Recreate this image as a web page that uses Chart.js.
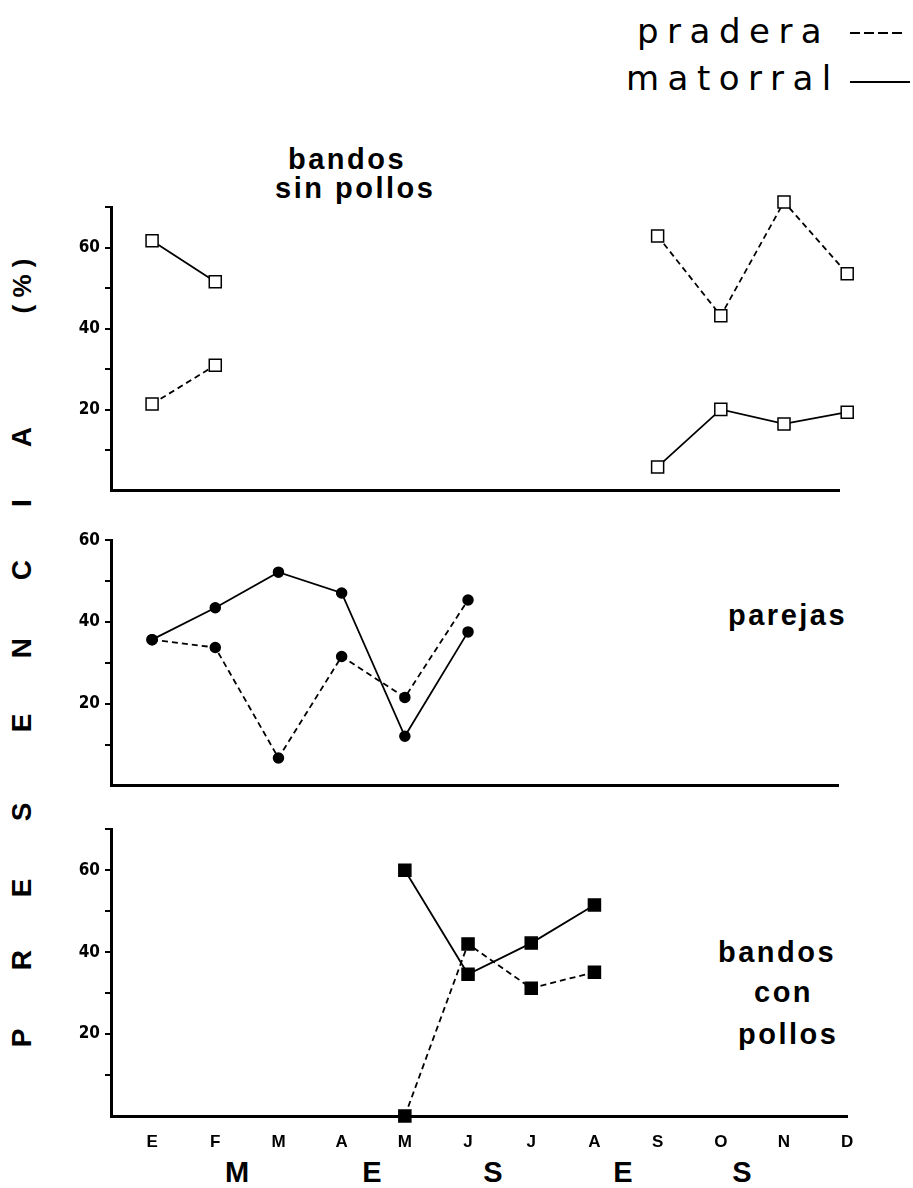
<!DOCTYPE html>
<html>
<head>
<meta charset="utf-8">
<script src="https://cdn.jsdelivr.net/npm/chart.js@4.4.0/dist/chart.umd.min.js"></script>
<style>
  body { margin: 0; background: #fff; }
  #page { position: relative; width: 913px; height: 1188px; overflow: hidden; color: #000;
          font-family: 'Liberation Sans', Arial, sans-serif; }
  canvas { position: absolute; left: 0; }
  .t { position: absolute; font-weight: bold; font-size: 29px; letter-spacing: 2.5px;
       line-height: 29px; white-space: nowrap; }
  .v { position: absolute; width: 50px; height: 40px; line-height: 40px; text-align: center;
       font-weight: bold; font-size: 28px; transform: rotate(-90deg); white-space: nowrap; }
  .m { position: absolute; width: 40px; text-align: center; font-weight: bold; font-size: 29px;
       line-height: 29px; }
  .leg { position: absolute; font-family: 'DejaVu Sans', sans-serif; font-size: 34px;
         letter-spacing: 8.5px; line-height: 34px; white-space: nowrap; }
  .dash { position: absolute; height: 2px;
          background: repeating-linear-gradient(90deg, #000 0 10px, transparent 10px 14px); }
  .solid { position: absolute; height: 2px; background: #000; }
</style>
</head>
<body>
<div id="page">
  <div class="leg" style="left:637px; top:14px;">pradera</div>
  <div class="dash" style="left:850px; top:32px; width:56px;"></div>
  <div class="leg" style="left:626px; top:61px;">matorral</div>
  <div class="solid" style="left:850px; top:81px; width:60px;"></div>

  <div class="t" style="left:288px; top:145px;">bandos</div>
  <div class="t" style="left:275px; top:174px;">sin pollos</div>
  <div class="t" style="left:728px; top:601px;">parejas</div>
  <div class="t" style="left:718px; top:938px;">bandos</div>
  <div class="t" style="left:754px; top:978px;">con</div>
  <div class="t" style="left:738px; top:1020px;">pollos</div>

  <div class="v" style="left:-3px; top:1018px;">P</div>
  <div class="v" style="left:-3px; top:940px;">R</div>
  <div class="v" style="left:-3px; top:868px;">E</div>
  <div class="v" style="left:-3px; top:792px;">S</div>
  <div class="v" style="left:-3px; top:703px;">E</div>
  <div class="v" style="left:-3px; top:628px;">N</div>
  <div class="v" style="left:-3px; top:550px;">C</div>
  <div class="v" style="left:-3px; top:483px;">I</div>
  <div class="v" style="left:-3px; top:417px;">A</div>
  <div class="v" style="left:-23px; top:266px; width:90px; font-size:26px;">( % )</div>

  <div class="m" style="left:217px; top:1158px;">M</div>
  <div class="m" style="left:352px; top:1158px;">E</div>
  <div class="m" style="left:473px; top:1158px;">S</div>
  <div class="m" style="left:603px; top:1158px;">E</div>
  <div class="m" style="left:722px; top:1158px;">S</div>

  <canvas id="p1" width="913" height="314" style="top:192px;"></canvas>
  <canvas id="p2" width="913" height="276" style="top:525px;"></canvas>
  <canvas id="p3" width="913" height="350" style="top:814px;"></canvas>
</div>
<script>
const meses = ['E', 'F', 'M', 'A', 'M', 'J', 'J', 'A', 'S', 'O', 'N', 'D'];
const etiquetasY = [20, 40, 60];

// bandos sin pollos
const sinPollosPradera  = [21.4, 31.0, null, null, null, null, null, null, 62.9, 43.2, 71.3, 53.6];
const sinPollosMatorral = [61.7, 51.6, null, null, null, null, null, null, 5.9, 20.1, 16.5, 19.4];
// parejas
const parejasPradera  = [35.7, 33.8, 6.8, 31.6, 21.6, 45.4, null, null, null, null, null, null];
const parejasMatorral = [35.7, 43.5, 52.2, 47.1, 12.1, 37.6, null, null, null, null, null, null];
// bandos con pollos
const conPollosPradera  = [null, null, null, null, 0, 42.0, 31.2, 35.1, null, null, null, null];
const conPollosMatorral = [null, null, null, null, 60, 34.6, 42.2, 51.5, null, null, null, null];

Chart.defaults.font.family = "'Liberation Sans', Arial, sans-serif";
Chart.defaults.color = '#000';

function puntos(valores) {
  return valores.map((v, i) => ({ x: i, y: v }));
}

function serie(valores, discontinua, estilo) {
  return {
    data: puntos(valores),
    borderColor: '#000',
    borderWidth: 1.8,
    borderDash: discontinua ? [6, 4] : [],
    tension: 0,
    spanGaps: false,
    clip: false,
    pointStyle: estilo.forma,
    pointRadius: estilo.radio,
    pointBackgroundColor: estilo.relleno,
    pointBorderColor: '#000',
    pointBorderWidth: 1.5
  };
}

function panel(id, pradera, matorral, estilo, yMax, xMax, conMeses) {
  const ctx = document.getElementById(id).getContext('2d');
  return new Chart(ctx, {
    type: 'line',
    data: {
      datasets: [serie(pradera, true, estilo), serie(matorral, false, estilo)]
    },
    options: {
      responsive: false,
      animation: false,
      devicePixelRatio: 1,
      layout: {
        padding: { top: 15, bottom: conMeses ? 4 : 14, left: 0, right: 913 - (152 + 63.2 * xMax) }
      },
      plugins: { legend: { display: false }, tooltip: { enabled: false } },
      scales: {
        x: {
          type: 'linear',
          min: -0.65,
          max: xMax,
          afterBuildTicks: (s) => { s.ticks = meses.map((m, i) => ({ value: i })); },
          afterFit: (s) => { s.height = conMeses ? 44 : 0; },
          ticks: {
            display: conMeses,
            autoSkip: false,
            maxRotation: 0,
            padding: 8,
            font: { size: 17, weight: 'bold' },
            callback: (v) => meses[v]
          },
          grid: { display: false },
          border: { display: true, width: 3, color: '#000' }
        },
        y: {
          min: 0,
          max: yMax,
          afterFit: (s) => { s.width = 111; },
          ticks: {
            stepSize: 10,
            padding: 5,
            font: { family: "'Liberation Sans Narrow', 'DejaVu Sans Condensed', sans-serif", size: 17, weight: 'bold' },
            callback: (v) => etiquetasY.includes(v) ? String(v) : ''
          },
          grid: {
            display: true, drawOnChartArea: false, drawTicks: true, tickLength: 6, lineWidth: 2,
            color: (c) => (c.tick && c.tick.value === 0) ? 'rgba(0,0,0,0)' : '#000'
          },
          border: { display: true, width: 3, color: '#000' }
        }
      }
    }
  });
}

const cuadroAbierto = { forma: 'rect', radio: 8.5, relleno: '#fff' };
const circulo = { forma: 'circle', radio: 5, relleno: '#000' };
const cuadroLleno = { forma: 'rect', radio: 8.5, relleno: '#000' };

panel('p1', sinPollosPradera, sinPollosMatorral, cuadroAbierto, 70, 10.886, false);
panel('p2', parejasPradera, parejasMatorral, circulo, 60, 10.87, false);
panel('p3', conPollosPradera, conPollosMatorral, cuadroLleno, 70, 11, true);
</script>
</body>
</html>
